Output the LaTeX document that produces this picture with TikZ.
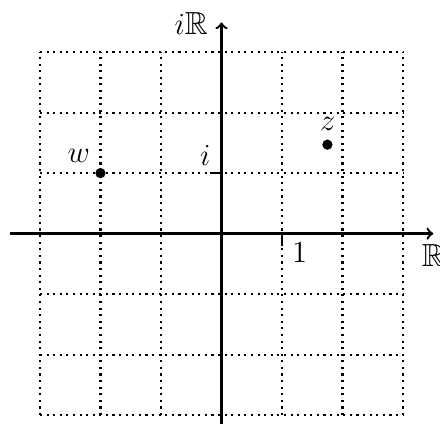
\documentclass[tikz,border=0pt]{standalone}
\usepackage{amssymb}
\begin{document}
\begin{tikzpicture}[x=1cm,y=1cm,
  gridline/.style={line width=1pt, dash pattern=on 1pt off 2.1pt},
  axis/.style={->, line width=1.1pt},
  tick/.style={line width=1.1pt},
  pt/.style={circle, fill=black, inner sep=0pt, minimum size=0.17cm},
  lbl/.style={font=\fontsize{15}{18}\selectfont, inner sep=0pt}]
\useasboundingbox (-3.66,-3.13) rectangle (3.61,3.86);
\draw[gridline] (-3,-3) grid (3,3);
\coordinate (xl) at (-3.5,0);
\coordinate (xr) at (3.5,0);
\coordinate (yb) at (0,-3.5);
\coordinate (yt) at (0,3.49);
\draw[axis] (xl) -- (xr);
\draw[axis] (yb) -- (yt);
\coordinate (one) at (1,0.02);
\coordinate (onet) at (1,-0.2);
\coordinate (ii) at (0,1);
\coordinate (iit) at (-0.19,1);
\draw[tick] (one) -- (onet);
\draw[tick] (ii) -- (iit);
\node[lbl] (onel) at (1.29,-0.32) {$1$};
\node[lbl] (il) at (-0.27,1.29) {$i$};
\node[lbl] (Rl) at (3.5,-0.37) {$\mathbb{R}$};
\node[lbl] (iRl) at (-0.5,3.47) {$i\mathbb{R}$};
\node[pt] (z) at (1.75,1.47) {};
\node[pt] (w) at (-2,1) {};
\node[lbl] (zl) at (1.756,1.82) {$z$};
\node[lbl] (wl) at (-2.36,1.29) {$w$};
\end{tikzpicture}
\end{document}
